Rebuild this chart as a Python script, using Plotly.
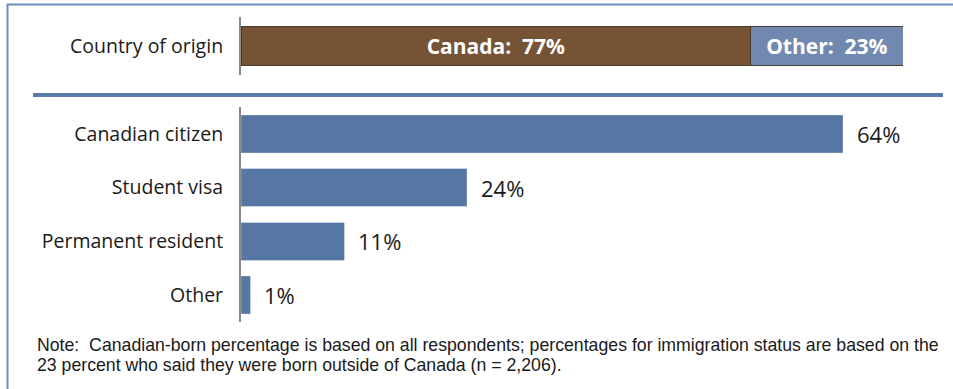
import plotly.graph_objects as go

# Country of origin split (percent of all respondents)
origin_labels = ["Canada", "Other"]
origin_values = [77, 23]
origin_colors = ["#765334", "#7189b0"]

# Immigration status among respondents born outside Canada (percent)
status_labels = ["Canadian citizen", "Student visa", "Permanent resident", "Other"]
status_values = [64, 24, 11, 1]

note_lines = [
    "Note:  Canadian-born percentage is based on all respondents; percentages for immigration status are based on the",
    "23 percent who said they were born outside of Canada (n = 2,206).",
]

W, H = 953, 389


def px_x(p):
    return p / W


def px_y(p):
    return 1 - p / H


label_font = dict(family="Open Sans, DejaVu Sans, sans-serif", size=19.5, color="#1a1a1a")

fig = go.Figure()

# Stacked origin bar
for name, val, col in zip(origin_labels, origin_values, origin_colors):
    fig.add_trace(go.Bar(
        x=[val], y=["Country of origin"], orientation="h",
        name=name, xaxis="x", yaxis="y", width=0.66,
        marker=dict(color=col, line=dict(color="#4a3b2c", width=1)),
        text=[f"{name}:  {val}%"], textposition="inside",
        insidetextanchor="middle",
        textfont=dict(family="Open Sans, DejaVu Sans, sans-serif", size=21, color="white", weight="bold"),
        hoverinfo="skip",
    ))

# Immigration status bars
fig.add_trace(go.Bar(
    x=status_values, y=status_labels, orientation="h",
    xaxis="x2", yaxis="y2", width=0.7,
    marker=dict(color="#5677a3", line=dict(color="#8aa0c0", width=0.5)),
    hoverinfo="skip",
))

annotations = []
for lab, val in zip(status_labels, status_values):
    annotations.append(dict(
        x=val, y=lab, xref="x2", yref="y2", text=f"{val}%",
        showarrow=False, xanchor="left", yanchor="middle", xshift=12,
        font=dict(family="Open Sans, DejaVu Sans, sans-serif", size=22, color="#1a1a1a"),
    ))

for i, line in enumerate(note_lines):
    annotations.append(dict(
        x=px_x(35), y=px_y(345 + i * 20), xref="paper", yref="paper",
        text=line, showarrow=False, xanchor="left", yanchor="middle",
        font=dict(family="Liberation Sans, Arial, sans-serif", size=17.7, color="#1a1a1a"),
    ))

shapes = [
    # frame edges
    dict(type="line", xref="paper", yref="paper", x0=px_x(7), x1=1, y0=px_y(4.5), y1=px_y(4.5),
         line=dict(color="#6b8fc4", width=2)),
    dict(type="line", xref="paper", yref="paper", x0=px_x(7.5), x1=px_x(7.5), y0=px_y(4), y1=0,
         line=dict(color="#6b8fc4", width=2)),
    # separator between panels
    dict(type="line", xref="paper", yref="paper", x0=px_x(33), x1=px_x(943), y0=px_y(95), y1=px_y(95),
         line=dict(color="#5a7cab", width=4)),
]

fig.update_layout(
    width=W, height=H,
    margin=dict(l=0, r=0, t=0, b=0),
    paper_bgcolor="white", plot_bgcolor="white",
    barmode="stack", showlegend=False,
    xaxis=dict(domain=[px_x(241), px_x(903)], range=[0, 100], visible=False, anchor="y"),
    yaxis=dict(domain=[px_y(75), px_y(17)], range=[-0.5, 0.5], anchor="x",
               showline=True, linecolor="#8a8a8a", linewidth=2, showgrid=False,
               ticks="", tickfont=label_font, ticklabelstandoff=12),
    xaxis2=dict(domain=[px_x(241), px_x(946)], range=[0, 75], visible=False, anchor="y2"),
    yaxis2=dict(domain=[px_y(322), px_y(107)], range=[3.5, -0.5], anchor="x2",
                showline=True, linecolor="#8a8a8a", linewidth=2, showgrid=False,
                ticks="", tickfont=label_font, ticklabelstandoff=12,
                categoryorder="array", categoryarray=status_labels),
    annotations=annotations,
    shapes=shapes,
)

fig.write_html("out.html")
